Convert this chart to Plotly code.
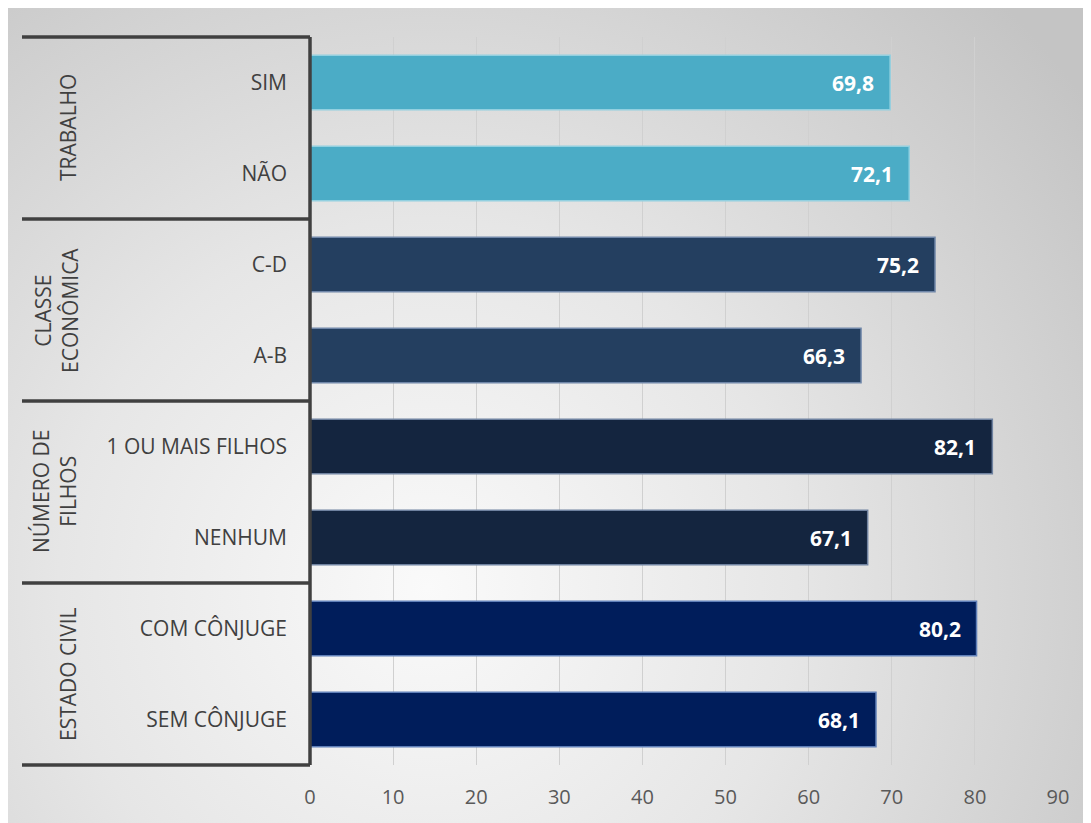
import plotly.graph_objects as go
import urllib.parse

categories = ["SIM", "NÃO", "C-D", "A-B", "1 OU MAIS FILHOS", "NENHUM", "COM CÔNJUGE", "SEM CÔNJUGE"]
values = [69.8, 72.1, 75.2, 66.3, 82.1, 67.1, 80.2, 68.1]
groups = ["TRABALHO", "CLASSE<br>ECONÔMICA", "NÚMERO DE<br>FILHOS", "ESTADO CIVIL"]
group_colors = ["#4BACC6", "#243F60", "#14253F", "#001D5B"]
group_edges = ["#92D0E0", "#6F86A8", "#6F82A0", "#5F7FB8"]
x_ticks = [0, 10, 20, 30, 40, 50, 60, 70, 80, 90]

OFF = 8  # page body margin
W, H = 1091 - OFF, 823 - OFF
L, R, T, B = 310 - OFF, 33, 37 - OFF, 58
pw = W - L - R
ph = H - T - B

bar_colors = [group_colors[i // 2] for i in range(len(categories))]
edge_colors = [group_edges[i // 2] for i in range(len(categories))]

fig = go.Figure()
fig.add_trace(go.Bar(
    y=categories, x=values, orientation="h",
    marker=dict(color=bar_colors, line=dict(color=edge_colors, width=1.5)),
    width=0.6, hoverinfo="skip",
))

# data labels
for c, v in zip(categories, values):
    fig.add_annotation(x=v, y=c, xref="x", yref="y", text="<b>" + f"{v:.1f}".replace(".", ",") + "</b>",
                       showarrow=False, xanchor="right", xshift=-14,
                       font=dict(family="Open Sans", size=21, color="white"))

# background gradient
svg = f'''<svg xmlns="http://www.w3.org/2000/svg" width="{W}" height="{H}" viewBox="0 0 {W} {H}">
<defs><radialGradient id="g" gradientUnits="userSpaceOnUse" cx="420" cy="580" r="820">
<stop offset="0" stop-color="#fafafa"/><stop offset="0.45" stop-color="#e6e6e6"/><stop offset="1" stop-color="#c4c4c4"/>
</radialGradient></defs><rect width="100%" height="100%" fill="url(#g)"/></svg>'''
src = "data:image/svg+xml;charset=utf-8," + urllib.parse.quote(svg)

def px2x(p):
    return (p - OFF - L) / pw

def py2y(p):
    return 1 - (p - OFF - T) / ph

fig.add_layout_image(dict(source=src, xref="paper", yref="paper", x=px2x(OFF), y=py2y(OFF),
                          sizex=W / pw, sizey=H / ph, xanchor="left", yanchor="top",
                          sizing="stretch", layer="below"))

# group separator lines
line_col = "#404040"
for k in range(5):
    yy = 1 - k * 0.25
    fig.add_shape(type="line", xref="paper", yref="paper", x0=px2x(22), x1=0, y0=yy, y1=yy,
                  line=dict(color=line_col, width=3.5))
fig.add_shape(type="line", xref="paper", yref="paper", x0=0, x1=0, y0=0, y1=1,
              line=dict(color=line_col, width=3.5))

# group labels
glabel_x = [68, 56, 54, 68]
for i, g in enumerate(groups):
    fig.add_annotation(xref="paper", yref="paper", x=px2x(glabel_x[i]), y=1 - (i * 0.25 + 0.125),
                       text=g, textangle=-90, showarrow=False, align="center",
                       xanchor="center", yanchor="middle",
                       font=dict(family="Open Sans", size=21, color="#404040"))

fig.update_layout(
    width=W, height=H,
    margin=dict(l=L, r=R, t=T, b=B),
    paper_bgcolor="white", plot_bgcolor="rgba(0,0,0,0)",
    showlegend=False, bargap=0.4,
    font=dict(family="Open Sans", color="#404040"),
)
fig.update_xaxes(range=[0, 90], tickvals=x_ticks, ticktext=[str(t) for t in x_ticks],
                 showgrid=True, gridcolor="#d0d0d0", gridwidth=1, zeroline=False,
                 ticks="", ticklabelstandoff=18, tickfont=dict(size=20, color="#595959"), fixedrange=True)
fig.update_yaxes(categoryorder="array", categoryarray=categories, autorange="reversed",
                 showgrid=False, zeroline=False, ticks="", ticklabelstandoff=22,
                 tickfont=dict(size=21, color="#404040"), fixedrange=True)

fig.write_html("out.html")
